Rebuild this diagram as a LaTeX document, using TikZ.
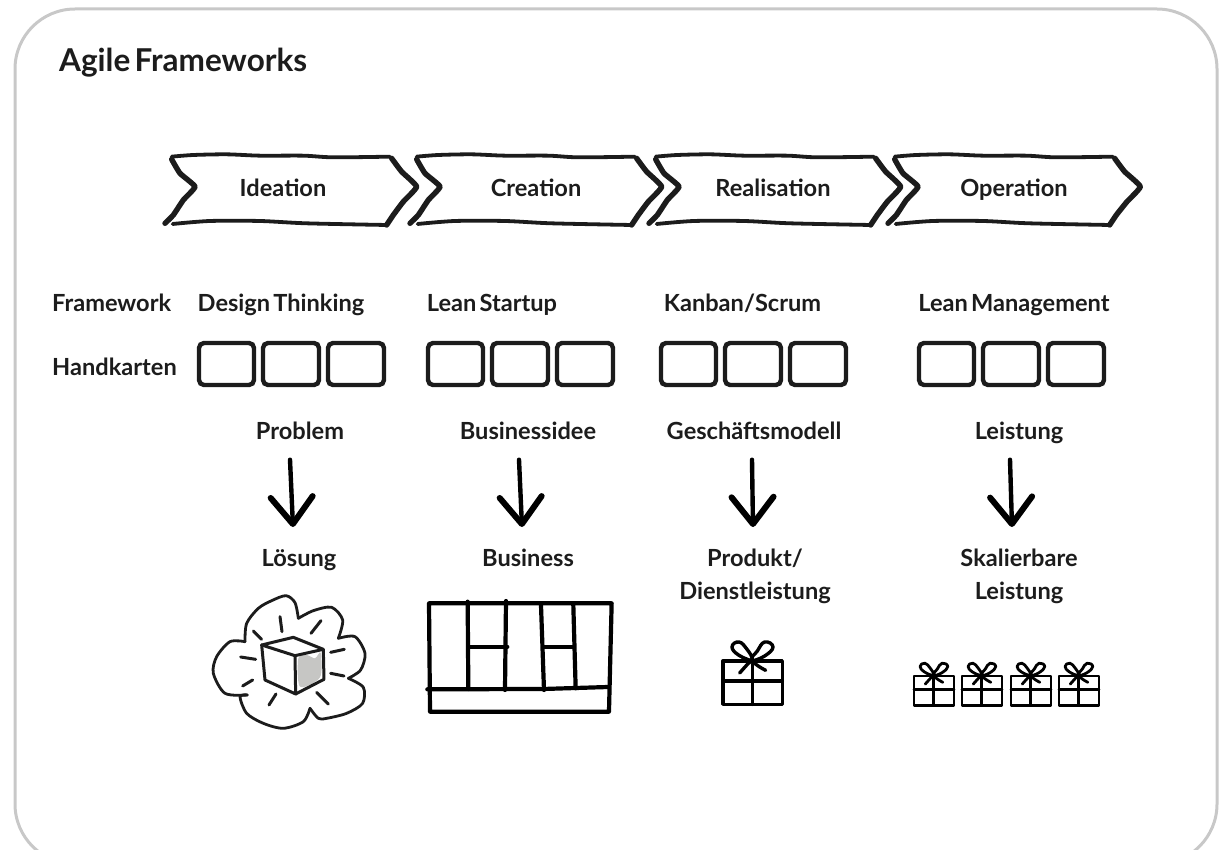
\documentclass[tikz,border=0pt]{standalone}
\usepackage{fontspec}
\setmainfont{Lato}[BoldFont={Lato Bold},WordSpace=0.55]
\usetikzlibrary{arrows.meta}
\definecolor{ink}{HTML}{1C1C1C}
\definecolor{framegray}{HTML}{C8C8C8}
\definecolor{cubegray}{HTML}{C6C6C4}
\tikzset{
  lbl/.style={font=\fontsize{23.6}{33}\selectfont\bfseries, text=ink, inner sep=0pt, align=center, text height=17pt, text depth=0pt},
  lblleft/.style={lbl, anchor=west},
  chevtop/.style={draw=ink, line width=3.8pt, line cap=round, line join=round},
  chevside/.style={draw=ink, line width=5.4pt, line cap=round, line join=round},
  card/.style={draw=ink, line width=4.4pt, rounded corners=5pt, fill=white},
  handarrow/.style={draw=black, line width=4.4pt, line cap=round, line join=round,
    -{Straight Barb[length=27pt,width=42pt,line width=6pt,round]}},
  sketch/.style={draw=ink, line width=3pt, line cap=round, line join=round},
  canvasline/.style={draw=black, line width=4.2pt, line cap=round, line join=round},
}
% chevron, drawn in 3x zoom units
\newcommand{\chevshape}[2]{%
  \begin{scope}[shift={(160+#1,140)},x=0.3333pt,y=-0.3333pt]
    \draw[chevtop] plot[smooth] coordinates {(35,50)(100,45)(200,43)(300,47)(430,47)(520,52)(690,50)};
    \draw[chevtop] plot[smooth] coordinates {(38,252)(150,243)(300,243)(440,250)(680,255)};
    \draw[chevside] plot[smooth,tension=.25] coordinates {(35,58)(60,100)(105,140)(70,180)(40,225)(15,250)};
    \draw[chevside] plot[smooth,tension=.25] coordinates {(695,55)(725,95)(#2,140)(#2-40,185)(700,225)(680,255)};
  \end{scope}}
% three cards starting at x
\newcommand{\cardrow}[1]{%
  \draw[card] (#1,343) rectangle (#1+55,385);
  \draw[card] (#1+64,343) rectangle (#1+120,385);
  \draw[card] (#1+129,343) rectangle (#1+185,385);}
% gift: x, y of box top-left, scale, line width
\newcommand{\giftshape}[4]{%
  \begin{scope}[shift={(#1,#2)},x=0.3333*#3 pt,y=-0.3333*#3 pt,line width=#4pt,line cap=round,line join=round,draw=black]
    \draw (0,0) rectangle (178,130);
    \draw (0,60) -- (178,60);
    \draw (88,8) -- (88,130);
    \draw plot[smooth,tension=.8] coordinates {(50,36)(75,8)(88,-5)(72,-35)(48,-57)(27,-42)(48,-17)(88,0)};
    \draw plot[smooth,tension=.8] coordinates {(88,0)(125,-15)(150,-42)(125,-57)(103,-30)(88,-2)(128,28)};
  \end{scope}}
\begin{document}
\begin{tikzpicture}[x=1pt,y=-1pt]
\useasboundingbox (0,0) rectangle (1226,850);
\begin{scope}
  \clip (0,0) rectangle (1226,850);
  \draw[framegray, line width=3pt, rounded corners=60pt] (15,9) rectangle (1217,864);
\end{scope}

\node[lblleft, font=\fontsize{31.5}{37}\selectfont\bfseries, text height=22.5pt] (title) at (59,60) {Agile Frameworks};

% chevrons
\chevshape{0}{770}
\chevshape{245}{770}
\chevshape{484}{770}
\chevshape{723}{772}
\node[lbl] (ideation) at (283,188) {Ideation};
\node[lbl] (creation) at (536,188) {Creation};
\node[lbl] (realisation) at (773,188) {Realisation};
\node[lbl] (operation) at (1014,188) {Operation};

% rows
\node[lblleft] (framework) at (52,303) {Framework};
\node[lblleft] (handkarten) at (52,367) {Handkarten};
\node[lbl] (fw1) at (281,303) {Design Thinking};
\node[lbl] (fw2) at (492,303) {Lean Startup};
\node[lbl] (fw3) at (742.5,303) {Kanban/Scrum};
\node[lbl] (fw4) at (1014,303) {Lean Management};

\cardrow{199}
\cardrow{428}
\cardrow{661}
\cardrow{919}

% from / to
\node[lbl] (from1) at (300,431) {Problem};
\node[lbl] (from2) at (528,431) {Businessidee};
\node[lbl] (from3) at (754,431) {Geschäftsmodell};
\node[lbl] (from4) at (1019,431) {Leistung};
\node[lbl, anchor=south] (to1) at (299,566.5) {Lösung};
\node[lbl, anchor=south] (to2) at (528,566.5) {Business};
\node[lbl, anchor=south] (to3) at (755,599.5) {Produkt/\\Dienstleistung};
\node[lbl, anchor=south] (to4) at (1019,599.5) {Skalierbare\\Leistung};

\draw[handarrow] ([shift={(-10,20)}]from1.south) -- ([shift={(-6,-39.5)}]to1.south);
\draw[handarrow] ([shift={(-9,20)}]from2.south) -- ([shift={(-6,-39.5)}]to2.south);
\draw[handarrow] ([shift={(-2,20)}]from3.south) -- ([shift={(-2,-72.5)}]to3.south);
\draw[handarrow] ([shift={(-9,20)}]from4.south) -- ([shift={(-7,-72.5)}]to4.south);

% solution sketch: cloud and cube
\begin{scope}[shift={(200,590)},x=0.3333pt,y=-0.3333pt]
  \begin{scope}[sketch, line width=2.8pt]
  \draw plot[smooth] coordinates {(135,155)(140,100)(175,55)(215,32)(258,17)(285,38)(295,85)};
  \draw plot[smooth] coordinates {(295,85)(340,62)(395,52)(428,90)(415,145)};
  \draw plot[smooth] coordinates {(415,145)(465,140)(495,190)(482,240)(445,265)};
  \draw plot[smooth] coordinates {(445,265)(490,292)(488,340)(440,370)(380,385)(355,385)(330,355)};
  \draw plot[smooth] coordinates {(330,355)(310,395)(250,415)(190,400)(140,370)(120,320)(142,315)};
  \draw plot[smooth] coordinates {(142,315)(75,310)(40,250)(50,200)(90,155)(135,155)};
  \end{scope}
  \fill[cubegray] plot[smooth cycle,tension=.5] coordinates {(295,205)(320,195)(345,205)(362,188)(360,262)(300,290)};
  \draw[sketch] (185,165) -- (280,142) -- (370,178) -- (285,197) -- cycle;
  \draw[sketch] (185,165) -- (195,270) -- (287,312) -- (285,197);
  \draw[sketch] (370,178) -- (372,268) -- (287,312);
  \draw[sketch] (240,80) -- (246,125);
  \draw[sketch] (363,92) -- (333,130);
  \draw[sketch] (433,178) -- (392,187);
  \draw[sketch] (432,258) -- (392,250);
  \draw[sketch] (350,307) -- (385,342);
  \draw[sketch] (228,312) -- (207,345);
  \draw[sketch] (158,270) -- (128,288);
  \draw[sketch] (122,201) -- (167,208);
  \draw[sketch] (160,123) -- (185,148);
\end{scope}

% business canvas
\begin{scope}[shift={(420,590)},x=0.3333pt,y=-0.3333pt]
  \draw[canvasline] (27,40) -- (575,40) -- (567,365) -- (30,365) -- cycle;
  \draw[canvasline] (22,298) -- (370,297) -- (565,291);
  \draw[canvasline] (143,35) -- (145,297);
  \draw[canvasline] (258,33) -- (255,300);
  \draw[canvasline] (363,45) -- (372,300);
  \draw[canvasline] (460,45) -- (467,295);
  \draw[canvasline] (150,170) -- (262,170);
  \draw[canvasline] (372,170) -- (460,170);
\end{scope}

% gifts
\giftshape{723}{661}{1}{3.4}
\giftshape{914}{676}{0.675}{2.8}
\giftshape{962}{676}{0.675}{2.8}
\giftshape{1011}{676}{0.675}{2.8}
\giftshape{1059}{676}{0.675}{2.8}
\end{tikzpicture}
\end{document}
